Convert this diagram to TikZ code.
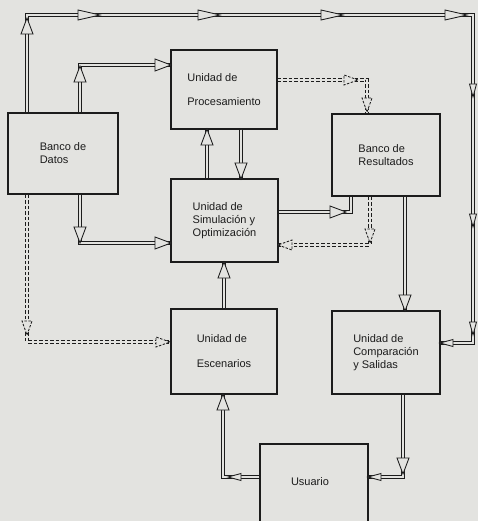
\documentclass[tikz,border=0pt]{standalone}
\usepackage{fontspec}
\setmainfont{Liberation Sans}
\definecolor{paper}{RGB}{227,227,224}
\definecolor{ink}{RGB}{28,28,28}
\tikzset{
  box/.style={draw=ink, line width=1.1pt, fill=paper, align=left, inner sep=0pt,
     font=\fontsize{11}{13}\selectfont, text=ink},
  lbl/.style={font=\fontsize{11}{13}\selectfont, text=ink, inner sep=0pt},
  dl/.style={draw=ink, line width=0.85pt, double=paper, double distance=2.6pt},
  ddl/.style={dl, dash pattern=on 3.5pt off 2pt},
  headst/.style={draw=ink, fill=paper, line width=0.85pt, line join=miter},
  hd/.pic={\draw[headst] (0,0) -- (-16,-6) -- (-16,6) -- cycle;},
  hdl/.pic={\draw[headst] (0,0) -- (-22,-5) -- (-22,5) -- cycle;},
  hds/.pic={\draw[headst] (0,0) -- (-13,-3.5) -- (-13,3.5) -- cycle;},
  hdd/.pic={\draw[headst, dash pattern=on 2.5pt off 1.5pt] (0,0) -- (-14,-5) -- (-14,5) -- cycle;},
}
\begin{document}
\begin{tikzpicture}[x=1pt, y=-1pt]
\fill[paper] (0,0) rectangle (478,521);
\useasboundingbox (0,0) rectangle (478,521);

% boxes
\node[box, minimum width=110pt, minimum height=81pt] (bd) at (63,153.5) {Banco de\\Datos};
\node[box, minimum width=106pt, minimum height=79pt] (proc) at (224,89.5) {Unidad de\\[11pt]Procesamiento};
\node[box, minimum width=108pt, minimum height=82pt] (br) at (386,155) {Banco de\\Resultados};
\node[box, minimum width=107pt, minimum height=83pt] (sim) at (224.5,220.5) {Unidad de\\Simulación y\\Optimización};
\node[box, minimum width=106pt, minimum height=85pt] (esc) at (224,351.5) {Unidad de\\[12pt]Escenarios};
\node[box, minimum width=108pt, minimum height=83pt] (comp) at (386,352.5) {Unidad de\\Comparación\\y Salidas};
\node[box, minimum width=108pt, minimum height=90pt] (usr) at (314,489) {};
\node[lbl] (usrt) at (310,482) {Usuario};

% corner coordinates
\coordinate (tl) at (27,15);
\coordinate (tr) at (473,15);
\coordinate (rb) at (473,343);
\coordinate (p2) at (80,65);
\coordinate (d3) at (27,342);
\coordinate (d4) at (80,243);
\coordinate (c5) at (367,80);
\coordinate (c8) at (351,212);
\coordinate (c9) at (370,245);
\coordinate (c12) at (223,477);
\coordinate (c13) at (403,477);
\coordinate (v6) at (207,0);
\coordinate (v7) at (241,0);
\coordinate (v10) at (405,0);
\coordinate (v11) at (224,0);

% connectors
\draw[dl] (bd.north -| tl) -- (tl) -- (tr) -- (rb) -- (comp.east |- rb);
\draw[dl] (bd.north -| p2) -- (p2) -- (proc.west |- p2);
\draw[ddl] (bd.south -| d3) -- (d3) -- (esc.west |- d3);
\draw[dl] (bd.south -| d4) -- (d4) -- (sim.west |- d4);
\draw[ddl] (proc.east |- c5) -- (c5) -- (br.north -| c5);
\draw[dl] (sim.north -| v6) -- (proc.south -| v6);
\draw[dl] (proc.south -| v7) -- (sim.north -| v7);
\draw[dl] (sim.east |- c8) -- (c8) -- (br.south -| c8);
\draw[ddl] (br.south -| c9) -- (c9) -- (sim.east |- c9);
\draw[dl] (br.south -| v10) -- (comp.north -| v10);
\draw[dl] (esc.north -| v11) -- (sim.south -| v11);
\draw[dl] (usr.west |- c12) -- (c12) -- (esc.south -| c12);
\draw[dl] (comp.south -| c13) -- (c13) -- (usr.east |- c13);

% arrow heads
\pic[rotate=90] at (27,18) {hd};
\pic at (100,15) {hdl};
\pic at (220,15) {hdl};
\pic at (343,15) {hdl};
\pic at (467,15) {hdl};
\pic[rotate=-90] at (473,97) {hds};
\pic[rotate=-90] at (473,227) {hds};
\pic[rotate=-90] at (473,335) {hds};
\pic[rotate=180] at (440,343) {hds};
\pic[rotate=90] at (80,66) {hd};
\pic at (171,65) {hd};
\pic[rotate=-90] at (27,335) {hdd};
\pic at (170,342) {hdd};
\pic[rotate=-90] at (80,243) {hd};
\pic at (171,243) {hd};
\pic at (358,80) {hdd};
\pic[rotate=-90] at (367,112) {hdd};
\pic[rotate=90] at (207,129) {hd};
\pic[rotate=-90] at (241,179) {hd};
\pic at (346,212) {hd};
\pic[rotate=-90] at (370,243) {hdd};
\pic[rotate=180] at (278,245) {hdd};
\pic[rotate=-90] at (405,311) {hd};
\pic[rotate=90] at (224,262) {hd};
\pic[rotate=180] at (228,477) {hds};
\pic[rotate=90] at (223,394) {hd};
\pic[rotate=-90] at (403,474) {hd};
\pic[rotate=180] at (368,477) {hds};
\end{tikzpicture}
\end{document}
